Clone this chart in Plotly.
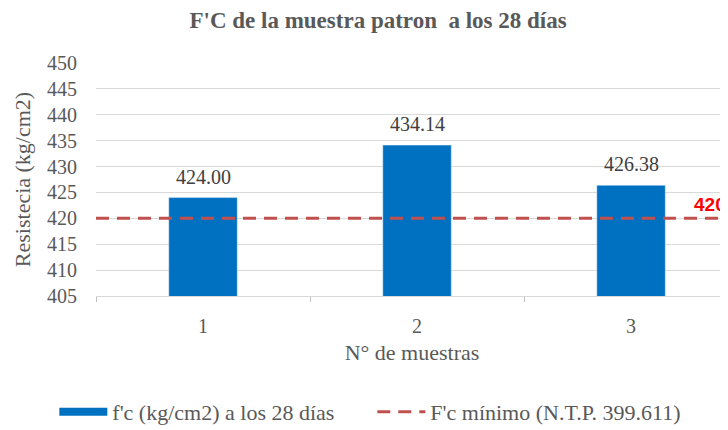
import plotly.graph_objects as go

muestras = [1, 2, 3]
fc_values = [424.00, 434.14, 426.38]
fc_minimo = 420
y_ticks = [405, 410, 415, 420, 425, 430, 435, 440, 445, 450]

font_fam = "Liberation Serif"
grey = "#595959"
bar_name = "f'c (kg/cm2) a los 28 días"

fig = go.Figure()
fig.add_trace(go.Bar(
    x=muestras, y=fc_values, name=bar_name,
    marker=dict(color="#0070C0"), width=0.32, showlegend=False,
))
for m, v in zip(muestras, fc_values):
    fig.add_annotation(x=m, y=v, text=f"{v:.2f}", showarrow=False, yanchor="bottom", yshift=8,
                       font=dict(size=20, color="#404040", family=font_fam))
# legend entry for the bars (wide rectangle symbol)
fig.add_trace(go.Scatter(
    x=[None], y=[None], mode="lines", name=bar_name,
    line=dict(color="#0070C0", width=8),
))
fig.add_trace(go.Scatter(
    x=[muestras[0] - 0.5, muestras[-1] + 0.5], y=[fc_minimo, fc_minimo],
    mode="lines", name="F'c mínimo (N.T.P. 399.611)",
    line=dict(color="#C0504D", width=3, dash="13px,8px"),
))
fig.add_annotation(
    x=1, xref="paper", y=fc_minimo, yref="y", text=f"<b>{fc_minimo}</b>",
    showarrow=False, xanchor="right", yanchor="bottom", xshift=0, yshift=1,
    font=dict(size=19, color="#FF0000", family="Liberation Sans"),
)

fig.update_layout(
    width=720, height=422,
    margin=dict(l=88, r=0, t=55, b=134),
    paper_bgcolor="white", plot_bgcolor="white",
    title=dict(text="<b>F'C de la muestra patron  a los 28 días</b>", x=0.514, xanchor="center",
               y=0.972, yanchor="middle", automargin=False,
               font=dict(size=23, color=grey, family=font_fam)),
    font=dict(family=font_fam, color=grey),
    showlegend=True,
    legend=dict(orientation="h", xref="container", yref="container", x=0.506, xanchor="center",
                y=0.043, yanchor="middle",
                font=dict(size=22, color=grey, family=font_fam), traceorder="normal",
                itemwidth=48, entrywidth=255, entrywidthmode="pixels"),
    xaxis=dict(range=[0.5, 3.453], tickvals=muestras, ticktext=[str(m) for m in muestras],
               showgrid=False, zeroline=False, ticks="", ticklabelstandoff=12, automargin=False,
               tickfont=dict(size=20, color=grey, family=font_fam),
               showline=True, linecolor="#d9d9d9", linewidth=1,
               minor=dict(tick0=0.5, dtick=1, ticks="outside", ticklen=5, tickcolor="#bfbfbf", showgrid=False),
               title=dict(text="N° de muestras", standoff=8, font=dict(size=22, color=grey, family=font_fam))),
    yaxis=dict(range=[405, 450], tickvals=y_ticks, showgrid=True, gridcolor="#d9d9d9",
               zeroline=False, ticklabelstandoff=18, automargin=False,
               tickfont=dict(size=20, color=grey, family=font_fam),
               title=dict(text="Resistecia (kg/cm2)", standoff=10, font=dict(size=22, color=grey, family=font_fam))),
)

fig.write_html("out.html")
